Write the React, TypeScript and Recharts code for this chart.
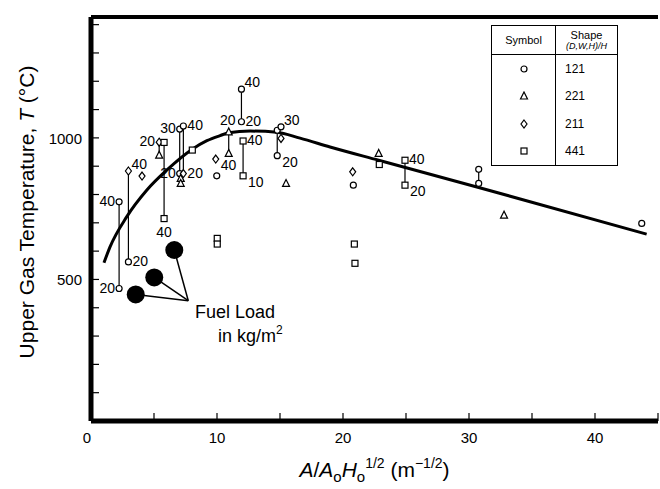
import React from "react";
import { ComposedChart, Line, Scatter, XAxis, YAxis, ReferenceLine, Legend, Label } from "recharts";

const FONT = "'Liberation Sans', Arial, Helvetica, sans-serif";

const xTicks = [0, 5, 10, 15, 20, 25, 30, 35, 40, 45];
const xTickLabels = [0, 10, 20, 30, 40];
const yTicks = [0, 100, 200, 300, 400, 500, 600, 700, 800, 900, 1000, 1100, 1200, 1300, 1400];
const yTickLabels = [500, 1000];

// compartment shape codes (D,W,H)/H
const shapeCodes = ["121", "221", "211", "441"];

// [A/AoHo^1/2, T degC]
const pts121: [number, number][] = [
  [2.23, 774], [2.23, 468], [2.97, 562], [7.04, 1031], [7.33, 1042], [7.04, 874],
  [9.98, 866], [11.94, 1172], [11.94, 1057], [14.78, 1027], [15.08, 1039], [14.78, 937],
  [20.82, 833], [30.77, 889], [30.77, 839], [43.71, 698],
];
const pts221: [number, number][] = [
  [5.41, 939], [7.12, 857], [7.12, 839], [10.93, 1021], [10.93, 945], [15.48, 839],
  [22.83, 945], [32.78, 727],
];
const pts211: [number, number][] = [
  [2.97, 883], [4.05, 865], [5.41, 985], [7.33, 874], [9.9, 925], [15.08, 998], [20.77, 880],
];
const pts441: [number, number][] = [
  [5.8, 984], [5.8, 715], [8.04, 957], [10.02, 645], [10.02, 625], [12.07, 989], [12.07, 866],
  [20.9, 625], [20.95, 557], [22.88, 906], [24.92, 921], [24.92, 833],
];

// same test, different fuel load: [x, T low, T high]
const pairs: [number, number, number][] = [
  [2.23, 468, 774], [2.97, 562, 883], [5.41, 939, 985], [5.8, 715, 984], [7.04, 874, 1031],
  [7.33, 874, 1042], [10.93, 945, 1021], [11.94, 1057, 1172], [12.07, 866, 989],
  [14.78, 937, 1027], [24.92, 833, 921], [30.77, 839, 889],
];

// fuel load tags next to points
const tags: [number, number, string][] = [
  [2.23, 774, "40"], [2.23, 468, "20"], [2.97, 883, "40"], [2.97, 562, "20"], [5.41, 985, "20"],
  [5.8, 715, "40"], [7.04, 1031, "30"], [7.33, 1042, "40"], [7.04, 874, "20"], [7.33, 874, "20"],
  [9.9, 925, "40"], [10.93, 1021, "20"], [11.94, 1172, "40"], [11.94, 1057, "20"], [12.07, 989, "40"],
  [12.07, 866, "10"], [15.08, 1039, "30"], [14.78, 937, "20"], [24.92, 921, "40"], [24.92, 833, "20"],
];
const tagSides = ["l", "l", "tr", "r", "l", "b", "l", "r", "l", "r", "br", "t", "tr", "r", "r", "br", "tr", "br", "r", "br"];

// fitted curve
const curveX = [1.03, 1.51, 2.83, 4.42, 6.01, 8.04, 9.2, 10.24, 10.93, 12.62, 14.74, 16.59, 18.97, 22.83, 30.77, 44.1];
const curveT = [559, 615, 721, 815, 886, 960, 990, 1008, 1018, 1024, 1020, 999, 968, 921, 825, 660];

// fuel load size markers
const fuelX = [3.55, 5.02, 6.61];
const fuelT = [447, 507, 604];
const fuelPointer = { x: 7.72, t: 425 };
const fuelNote = { x: 8.25, t: 364 };

const toPts = (a: [number, number][]) => a.map(([x, t]) => ({ x, t }));
const curve = curveX.map((x, i) => ({ x, t: curveT[i] }));
const tagData = tags.map(([x, t, text], i) => ({ x, t, text, side: tagSides[i] }));
const fuelData = fuelX.map((x, i) => ({ x, t: fuelT[i] }));

const Marker = ({ kind, cx, cy }: { kind: string; cx: number; cy: number }) => {
  const st = { fill: "#fff", stroke: "#000", strokeWidth: 1.2 };
  if (kind === "121") return <circle cx={cx} cy={cy} r={3} {...st} />;
  if (kind === "221")
    return <polygon points={`${cx},${cy - 4} ${cx - 3.5},${cy + 3} ${cx + 3.5},${cy + 3}`} {...st} />;
  if (kind === "211")
    return <polygon points={`${cx},${cy - 4} ${cx + 3},${cy} ${cx},${cy + 4} ${cx - 3},${cy}`} {...st} />;
  return <rect x={cx - 3} y={cy - 3} width={6} height={6} {...st} />;
};

const sideStyle: Record<string, { a: "start" | "end" | "middle"; dx: number; dy: number }> = {
  l: { a: "end", dx: -4, dy: 4 },
  r: { a: "start", dx: 4, dy: 4 },
  tr: { a: "start", dx: 3, dy: -2 },
  br: { a: "start", dx: 5, dy: 11 },
  b: { a: "middle", dx: 0, dy: 18 },
  t: { a: "middle", dx: -1, dy: -7 },
};

const TagShape = (props: any) => {
  const { cx, cy, payload } = props;
  const s = sideStyle[payload.side];
  return (
    <text x={cx + s.dx} y={cy + s.dy} textAnchor={s.a} fontSize={14} fontFamily={FONT} fill="#000">
      {payload.text}
    </text>
  );
};

const XTick = (props: any) => {
  const { x, y, payload } = props;
  const v = payload.value;
  return (
    <g>
      {v > 0 && <line x1={x} y1={y} x2={x} y2={y - 8} stroke="#000" strokeWidth={1.2} />}
      {xTickLabels.includes(v) && (
        <text x={v === 0 ? x - 4 : x} y={y + 22} textAnchor="middle" fontSize={15} fontFamily={FONT} fill="#000">
          {v}
        </text>
      )}
    </g>
  );
};

const YTick = (props: any) => {
  const { x, y, payload } = props;
  const v = payload.value;
  return (
    <g>
      {v > 0 && <line x1={x} y1={y} x2={x + 8} y2={y} stroke="#000" strokeWidth={1.2} />}
      {yTickLabels.includes(v) && (
        <text x={x - 9} y={y + 6} textAnchor="end" fontSize={15} fontFamily={FONT} fill="#000">
          {v}
        </text>
      )}
    </g>
  );
};

const LegendTable = ({ payload }: any) => {
  const rows = (payload || [])
    .filter((p: any) => shapeCodes.includes(p.value))
    .sort((a: any, b: any) => shapeCodes.indexOf(a.value) - shapeCodes.indexOf(b.value));
  const line = "1.5px solid #000";
  return (
    <div style={{ width: 127, height: 141, border: line, boxSizing: "border-box", background: "#fff", fontFamily: FONT, color: "#000" }}>
      <div style={{ display: "flex", height: 28, borderBottom: line }}>
        <div style={{ width: 63, borderRight: line, fontSize: 11, display: "flex", alignItems: "center", justifyContent: "center" }}>
          Symbol
        </div>
        <div style={{ flex: 1, fontSize: 11, textAlign: "center", lineHeight: "10px", paddingTop: 4 }}>
          Shape
          <br />
          <i style={{ fontSize: 9 }}>(D,W,H)/H</i>
        </div>
      </div>
      {rows.map((p: any) => (
        <div key={p.value} style={{ display: "flex", height: 27.5 }}>
          <div style={{ width: 63, borderRight: line, display: "flex", alignItems: "center", justifyContent: "center" }}>
            <svg width={10} height={10}>
              <Marker kind={p.value} cx={5} cy={5} />
            </svg>
          </div>
          <div style={{ flex: 1, fontSize: 12, paddingLeft: 9, display: "flex", alignItems: "center" }}>{p.value}</div>
        </div>
      ))}
    </div>
  );
};

const YTitle = (props: any) => {
  const { viewBox } = props;
  const cy = viewBox.y + viewBox.height / 2 - 7;
  return (
    <text x={34} y={cy} transform={`rotate(-90, 34, ${cy})`} textAnchor="middle" fontSize={21} fontFamily={FONT} fill="#000">
      Upper Gas Temperature, <tspan fontStyle="italic">T</tspan> (°C)
    </text>
  );
};

const XTitle = (props: any) => {
  const { viewBox } = props;
  const cx = viewBox.x + viewBox.width / 2;
  return (
    <text x={cx} y={viewBox.y + 56} textAnchor="middle" fontSize={21} fontFamily={FONT} fill="#000">
      <tspan fontStyle="italic">A</tspan>/<tspan fontStyle="italic">A</tspan>
      <tspan fontSize={15} dy={5}>o</tspan>
      <tspan fontStyle="italic" dy={-5}>H</tspan>
      <tspan fontSize={15} dy={5}>o</tspan>
      <tspan fontSize={14} dy={-14}>1/2</tspan>
      <tspan dy={9}> (m</tspan>
      <tspan fontSize={14} dy={-9}>−1/2</tspan>
      <tspan dy={9}>)</tspan>
    </text>
  );
};

export default function App() {
  return (
    <div style={{ position: "absolute", left: 0, top: 0, width: 660, height: 489, background: "#fff" }}>
      <ComposedChart width={660} height={489} margin={{ top: 17, right: 2, bottom: 0, left: 0 }}>
        <XAxis
          type="number"
          dataKey="x"
          domain={[0, 45]}
          ticks={xTicks}
          interval={0}
          allowDataOverflow
          height={68}
          tickSize={0}
          tickMargin={0}
          tickLine={false}
          axisLine={{ stroke: "#000", strokeWidth: 5 }}
          tick={<XTick />}
        >
          <Label content={<XTitle />} />
        </XAxis>
        <YAxis
          type="number"
          dataKey="t"
          domain={[0, 1427]}
          ticks={yTicks}
          interval={0}
          allowDataOverflow
          width={91}
          tickSize={0}
          tickMargin={0}
          tickLine={false}
          axisLine={{ stroke: "#000", strokeWidth: 5 }}
          tick={<YTick />}
        >
          <Label content={<YTitle />} />
        </YAxis>
        <ReferenceLine y={1427} stroke="#000" strokeWidth={4} />
        {pairs.map(([x, lo, hi]) => (
          <ReferenceLine
            key={`p${x}`}
            segment={[{ x, y: lo }, { x, y: hi }]}
            stroke="#000"
            strokeWidth={1.2}
          />
        ))}
        {fuelData.map((d) => (
          <ReferenceLine
            key={`f${d.x}`}
            segment={[{ x: d.x, y: d.t }, { x: fuelPointer.x, y: fuelPointer.t }]}
            stroke="#000"
            strokeWidth={1.5}
          />
        ))}
        <Line
          data={curve}
          dataKey="t"
          type="monotone"
          stroke="#000"
          strokeWidth={3}
          dot={false}
          activeDot={false}
          legendType="none"
          isAnimationActive={false}
        />
        {[pts121, pts221, pts211, pts441].map((pts, i) => (
          <Scatter
            key={shapeCodes[i]}
            name={shapeCodes[i]}
            data={toPts(pts)}
            dataKey="t"
            isAnimationActive={false}
            shape={(p: any) => <Marker kind={shapeCodes[i]} cx={p.cx} cy={p.cy} />}
          />
        ))}
        <Scatter
          data={fuelData}
          dataKey="t"
          legendType="none"
          isAnimationActive={false}
          shape={(p: any) => <circle cx={p.cx} cy={p.cy} r={9} fill="#000" />}
        />
        <Scatter data={tagData} dataKey="t" legendType="none" isAnimationActive={false} shape={<TagShape />} />
        <Scatter
          data={[fuelNote]}
          dataKey="t"
          legendType="none"
          isAnimationActive={false}
          shape={(p: any) => (
            <text x={p.cx} y={p.cy} fontSize={18} fontFamily={FONT} fill="#000">
              <tspan x={p.cx}>Fuel Load</tspan>
              <tspan x={p.cx + 23} dy={24}>in kg/m</tspan>
              <tspan fontSize={12} dy={-8}>2</tspan>
            </text>
          )}
        />
        <Legend
          layout="vertical"
          align="center"
          verticalAlign="middle"
          wrapperStyle={{ position: "absolute", left: 491, top: 25, width: 127, height: 141 }}
          content={<LegendTable />}
        />
      </ComposedChart>
    </div>
  );
}
